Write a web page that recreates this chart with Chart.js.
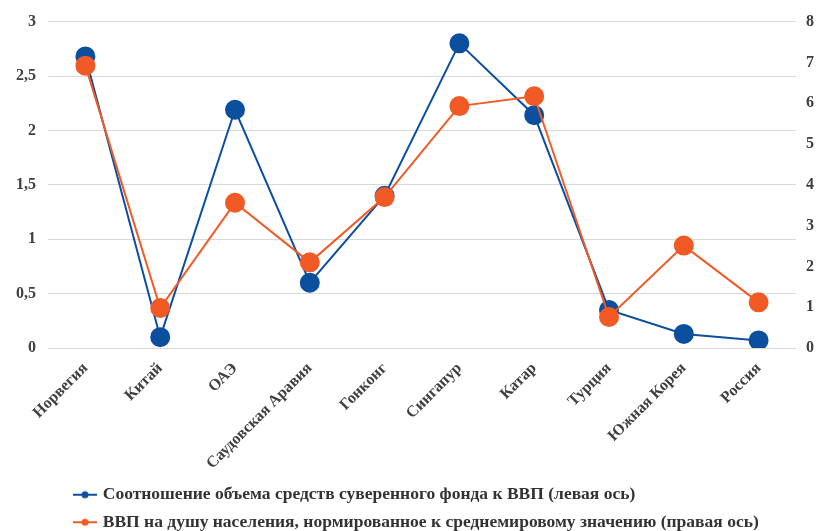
<!DOCTYPE html>
<html lang="ru">
<head>
    <meta charset="UTF-8">
    <title>Суверенные фонды</title>
    <script src="https://cdn.jsdelivr.net/npm/chart.js@4.4.0/dist/chart.umd.min.js"></script>
    <style>
        body { margin: 0; background: #fff; }
    </style>
</head>
<body>
    <canvas id="chart" width="824" height="531"></canvas>
    <script>
        const countries = ['Норвегия', 'Китай', 'ОАЭ', 'Саудовская Аравия', 'Гонконг',
                           'Сингапур', 'Катар', 'Турция', 'Южная Корея', 'Россия'];
        const fundToGdp = [2.68, 0.10, 2.19, 0.60, 1.40, 2.80, 2.14, 0.35, 0.13, 0.07];
        const gdpPerCapita = [6.92, 0.98, 3.56, 2.10, 3.70, 5.93, 6.17, 0.76, 2.51, 1.12];
        const leftTicks = [0, 0.5, 1, 1.5, 2, 2.5, 3];
        const rightTicks = [0, 1, 2, 3, 4, 5, 6, 7, 8];

        const BLUE = '#0B4F9E';
        const ORANGE = '#F15A24';

        // маленький значок легенды: линия с точкой
        function legendIcon(color) {
            const c = document.createElement('canvas');
            c.width = 24; c.height = 10;
            const g = c.getContext('2d');
            g.strokeStyle = color;
            g.lineWidth = 2;
            g.beginPath(); g.moveTo(0, 5); g.lineTo(24, 5); g.stroke();
            g.fillStyle = color;
            g.beginPath(); g.arc(12, 5, 3.5, 0, Math.PI * 2); g.fill();
            return c;
        }

        const tickFont = { family: '"Liberation Serif", serif', size: 16, weight: 'bold' };

        // легенда в оригинале сдвинута вправо
        const shiftLegend = {
            id: 'shiftLegend',
            afterLayout(chart) {
                chart.legend.left += 62;
            }
        };

        const ctx = document.getElementById('chart').getContext('2d');
        const myChart = new Chart(ctx, {
            type: 'line',
            data: {
                labels: countries,
                datasets: [{
                    label: 'Соотношение объема средств суверенного фонда к ВВП (левая ось)',
                    data: fundToGdp,
                    yAxisID: 'y',
                    borderColor: BLUE,
                    backgroundColor: BLUE,
                    borderWidth: 2,
                    pointRadius: 9,
                    pointHoverRadius: 9,
                    order: 2
                }, {
                    label: 'ВВП на душу населения, нормированное к среднемировому значению (правая ось)',
                    data: gdpPerCapita,
                    yAxisID: 'y1',
                    borderColor: ORANGE,
                    backgroundColor: ORANGE,
                    borderWidth: 2,
                    pointRadius: 9,
                    pointHoverRadius: 9,
                    order: 1
                }]
            },
            options: {
                responsive: false,
                animation: false,
                layout: { padding: { top: -2, left: 4, right: 0, bottom: -10 } },
                plugins: {
                    tooltip: { enabled: false },
                    legend: {
                        position: 'bottom',
                        align: 'start',
                        labels: {
                            usePointStyle: true,
                            pointStyleWidth: 18,
                            color: '#333333',
                            padding: 10,
                            font: { family: '"Liberation Serif", serif', size: 17.5, weight: 'bold' },
                            sort: (a, b) => a.datasetIndex - b.datasetIndex,
                            generateLabels(chart) {
                                return chart.data.datasets.map((ds, i) => ({
                                    text: ds.label,
                                    datasetIndex: i,
                                    pointStyle: legendIcon(ds.borderColor),
                                    fillStyle: ds.borderColor,
                                    strokeStyle: ds.borderColor,
                                    lineWidth: 0,
                                    fontColor: '#333333'
                                }));
                            }
                        }
                    }
                },
                scales: {
                    x: {
                        offset: true,
                        grid: { display: false },
                        border: { display: false },
                        ticks: {
                            color: '#404040',
                            padding: 3,
                            minRotation: 45,
                            maxRotation: 45,
                            font: { family: '"Liberation Serif", serif', size: 16, weight: 'bold' }
                        }
                    },
                    y: {
                        position: 'left',
                        min: 0,
                        max: 3,
                        afterBuildTicks: axis => { axis.ticks = leftTicks.map(v => ({ value: v })); },
                        grid: { color: '#d9d9d9', lineWidth: 1, drawTicks: false },
                        border: { display: false },
                        ticks: {
                            color: '#404040',
                            padding: 12,
                            font: tickFont,
                            callback: v => String(v).replace('.', ',')
                        }
                    },
                    y1: {
                        position: 'right',
                        min: 0,
                        max: 8,
                        afterBuildTicks: axis => { axis.ticks = rightTicks.map(v => ({ value: v })); },
                        grid: { display: false, drawTicks: false },
                        border: { display: false },
                        ticks: {
                            color: '#404040',
                            padding: 10,
                            font: tickFont
                        }
                    }
                }
            },
            plugins: [shiftLegend]
        });
    </script>
</body>
</html>
